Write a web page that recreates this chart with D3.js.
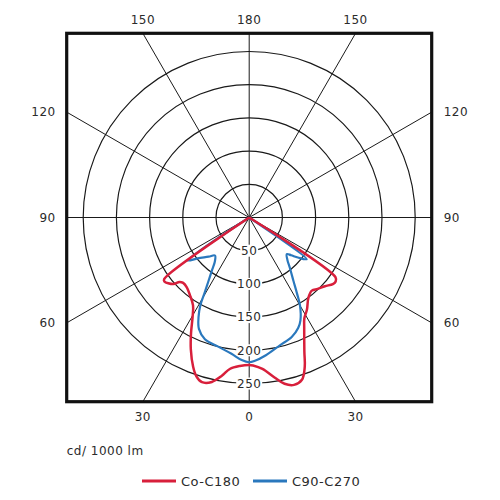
<!DOCTYPE html>
<html>
<head>
<meta charset="utf-8">
<script src="https://cdn.jsdelivr.net/npm/d3@7"></script>
<style>
    body { margin: 0; background: #fff; }
    text { font-family: "DejaVu Sans", sans-serif; fill: #2b2b2b; letter-spacing: 0.5px; }
</style>
</head>
<body>
<svg id="polarChart"></svg>
<script>
// ring values (cd/1000 lm)
var ringValues = [50, 100, 150, 200, 250];
// spokes every 30 degrees, gamma measured from straight down
var spokeAngles = [0, 30, 60, 90, 120, 150, 180, 210, 240, 270, 300, 330];
// outer labels
var topLabels = [{a: -150, t: "150"}, {a: 180, t: "180"}, {a: 150, t: "150"}];
var bottomLabels = [{a: -30, t: "30"}, {a: 0, t: "0"}, {a: 30, t: "30"}];
var sideLabels = [{a: 120, t: "120"}, {a: 90, t: "90"}, {a: 60, t: "60"}];

// C0-C180 (left = C180, right = C0)
var c0Angles = [-56, -54.1, -53, -48.7, -47.3, -45.3, -41.8, -37.4, -32.6, -29.7, -26.7, -23.9, -20.6, -18.4, -16, -12.8, -9.8, -7.3, -3.6, 0,
    1.5, 5, 9, 12, 15, 18, 20.4, 22.4, 26.6, 28.7, 32, 36.5, 40.6, 43.8, 47.8, 51.5, 53.5, 55.3, 56.5];
var c0Values = [0, 158, 160, 152, 143, 140, 141, 147, 157, 172, 195, 217, 240, 252, 258, 254, 242, 230, 224, 222,
    223, 229, 244, 256, 261, 257, 240, 218, 185, 173, 164, 150, 145, 149, 154, 161, 162, 158, 0];

// C90-C270
var c90Angles = [-56, -55, -51.6, -46, -42, -38, -35.4, -32.6, -30.6, -29.1, -27, -24.3, -20, -13.5, -7.4, -3, 0,
    2.3, 6.9, 13.5, 19.6, 23.9, 26.5, 30, 32.2, 34.8, 38.8, 42, 45.8, 48, 50.6, 54, 55.5];
var c90Values = [0, 113, 99, 85, 77, 84, 96, 114, 132, 151, 168, 184, 195, 200, 207, 215, 218,
    216, 209, 198, 191, 182, 173, 153, 135, 117, 98, 86, 79, 85, 95, 107, 0];

var legendItems = [{name: "Co-C180", color: "#d81f3b"}, {name: "C90-C270", color: "#2a78bd"}];

var width = 500, height = 500;
var frame = {x: 66.7, y: 33.3, w: 365, h: 368.4};
var cx = frame.x + frame.w / 2, cy = frame.y + frame.h / 2;

var svg = d3.select("#polarChart")
    .attr("width", width)
    .attr("height", height);

var r = d3.scaleLinear()
    .domain([0, 250])
    .range([0, 166]);

// gamma (from down, clockwise to the right) -> d3 radial angle
function toRad(g) { return (180 - g) * Math.PI / 180; }

svg.append("defs").append("clipPath").attr("id", "frameClip")
    .append("rect")
    .attr("x", frame.x).attr("y", frame.y)
    .attr("width", frame.w).attr("height", frame.h);

var plot = svg.append("g")
    .attr("clip-path", "url(#frameClip)");

var center = plot.append("g")
    .attr("transform", "translate(" + cx + "," + cy + ")");

// spokes
center.selectAll(".spoke")
    .data(spokeAngles)
    .enter().append("line")
    .attr("class", "spoke")
    .attr("x1", 0).attr("y1", 0)
    .attr("x2", d => 400 * Math.sin(toRad(d)))
    .attr("y2", d => -400 * Math.cos(toRad(d)))
    .attr("stroke", "#1a1a1a")
    .attr("stroke-width", 1);

// rings
center.selectAll(".ring")
    .data(ringValues)
    .enter().append("circle")
    .attr("class", "ring")
    .attr("r", d => r(d))
    .attr("fill", "none")
    .attr("stroke", "#1a1a1a")
    .attr("stroke-width", 1.2);

// ring labels on the 0 axis
var rl = center.selectAll(".ringLabel")
    .data(ringValues)
    .enter().append("g")
    .attr("class", "ringLabel")
    .attr("transform", d => "translate(0," + r(d) + ")");
rl.append("rect")
    .attr("x", d => d >= 100 ? -13 : -9)
    .attr("width", d => d >= 100 ? 26 : 18)
    .attr("y", -6).attr("height", 12)
    .attr("fill", "#fff");
rl.append("text")
    .attr("text-anchor", "middle")
    .attr("dy", "0.36em")
    .style("font-size", "12px")
    .text(d => d);

// curves
var radial = d3.lineRadial()
    .angle(d => toRad(d[0]))
    .radius(d => r(d[1]))
    .curve(d3.curveCatmullRom.alpha(0.5));

var c90Data = c90Angles.map((a, i) => [a, c90Values[i]]);
var c0Data = c0Angles.map((a, i) => [a, c0Values[i]]);

center.append("path")
    .attr("d", radial(c90Data))
    .attr("fill", "none")
    .attr("stroke", legendItems[1].color)
    .attr("stroke-width", 2.2)
    .attr("stroke-linejoin", "round");

center.append("path")
    .attr("d", radial(c0Data))
    .attr("fill", "none")
    .attr("stroke", legendItems[0].color)
    .attr("stroke-width", 2.5)
    .attr("stroke-linejoin", "round");

// frame
svg.append("rect")
    .attr("x", frame.x).attr("y", frame.y)
    .attr("width", frame.w).attr("height", frame.h)
    .attr("fill", "none")
    .attr("stroke", "#111")
    .attr("stroke-width", 3.2);

// outer labels: where the spokes meet the frame
var halfH = frame.h / 2, halfW = frame.w / 2;
svg.selectAll(".topLabel")
    .data(topLabels)
    .enter().append("text")
    .attr("text-anchor", "middle")
    .attr("x", d => cx + halfH * Math.tan(toRad(d.a)))
    .attr("y", frame.y - 9)
    .style("font-size", "12px")
    .text(d => d.t);

svg.selectAll(".bottomLabel")
    .data(bottomLabels)
    .enter().append("text")
    .attr("text-anchor", "middle")
    .attr("x", d => cx + halfH * Math.tan(d.a * Math.PI / 180))
    .attr("y", frame.y + frame.h + 19)
    .style("font-size", "12px")
    .text(d => d.t);

svg.selectAll(".leftLabel")
    .data(sideLabels)
    .enter().append("text")
    .attr("text-anchor", "end")
    .attr("x", frame.x - 11)
    .attr("y", d => cy + halfW / Math.tan(d.a * Math.PI / 180) + 4)
    .style("font-size", "12px")
    .text(d => d.t);

svg.selectAll(".rightLabel")
    .data(sideLabels)
    .enter().append("text")
    .attr("text-anchor", "start")
    .attr("x", frame.x + frame.w + 12)
    .attr("y", d => cy + halfW / Math.tan(d.a * Math.PI / 180) + 4)
    .style("font-size", "12px")
    .text(d => d.t);

// unit
svg.append("text")
    .attr("x", frame.x)
    .attr("y", 455)
    .style("font-size", "12px")
    .text("cd/ 1000 lm");

// legend
var legend = svg.append("g");
var legendX = [142, 253];
legendItems.forEach(function(item, i) {
    legend.append("line")
        .attr("x1", legendX[i]).attr("x2", legendX[i] + 34)
        .attr("y1", 481).attr("y2", 481)
        .attr("stroke", item.color)
        .attr("stroke-width", 3);
    legend.append("text")
        .attr("x", legendX[i] + 39)
        .attr("y", 485.5)
        .style("font-size", "13px")
        .text(item.name);
});
</script>
</body>
</html>
